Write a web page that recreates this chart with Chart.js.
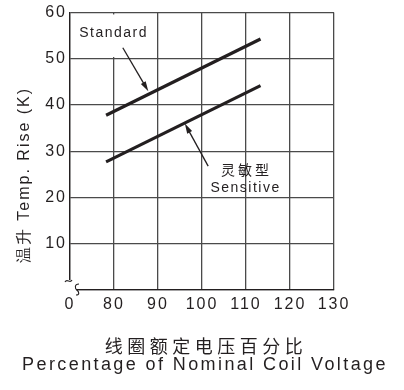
<!DOCTYPE html>
<html>
<head>
<meta charset="utf-8">
<script src="https://cdn.jsdelivr.net/npm/chart.js@4"></script>
<style>
  body { margin: 0; background: #fff; }
  canvas { display: block; }
</style>
</head>
<body>
<canvas id="chart" width="404" height="390"></canvas>
<script>
// x axis is broken: the first tick (drawn at 70) is labelled "0"
const xTickValues = [70, 80, 90, 100, 110, 120, 130];
const xTickLabels = ['0', '80', '90', '100', '110', '120', '130'];
const yTickLabels = ['', '10', '20', '30', '40', '50', '60'];

const voltage = [78.2, 113.3];
const standardRise = [37.8, 54.3];
const sensitiveRise = [27.7, 44.2];

// callouts, in data units: [tailX, tailY, tipX, tipY]
const standardArrow = [82.0, 52.4, 87.8, 43.0];
const sensitiveArrow = [101.4, 26.8, 96.1, 36.0];

const FONT = '"Liberation Sans", Arial, sans-serif';
const INK = '#231f20';
const GRID = '#4a4a4a';

function toPoints(xs, ys) {
    return xs.map((x, i) => ({ x: x, y: ys[i] }));
}

function drawArrow(ctx, x1, y1, x2, y2) {
    const ang = Math.atan2(y2 - y1, x2 - x1);
    const len = 10, half = 2.8;
    ctx.strokeStyle = INK;
    ctx.fillStyle = INK;
    ctx.lineWidth = 1.3;
    ctx.beginPath();
    ctx.moveTo(x1, y1);
    ctx.lineTo(x2 - Math.cos(ang) * len * 0.8, y2 - Math.sin(ang) * len * 0.8);
    ctx.stroke();
    ctx.beginPath();
    ctx.moveTo(x2, y2);
    ctx.lineTo(x2 - Math.cos(ang) * len - Math.sin(ang) * half, y2 - Math.sin(ang) * len + Math.cos(ang) * half);
    ctx.lineTo(x2 - Math.cos(ang) * len + Math.sin(ang) * half, y2 - Math.sin(ang) * len - Math.cos(ang) * half);
    ctx.closePath();
    ctx.fill();
}

const decorations = {
    id: 'decorations',
    beforeDraw(chart) {
        chart.ctx.letterSpacing = '2px';
    },
    beforeDatasetsDraw(chart) {
        const { ctx, chartArea: a, scales: { x, y } } = chart;
        ctx.save();
        // label boxes hide the grid behind them
        ctx.fillStyle = '#fff';
        ctx.fillRect(x.getPixelForValue(71), y.getPixelForValue(59.6), x.getPixelForValue(88.6) - x.getPixelForValue(71), y.getPixelForValue(50.4) - y.getPixelForValue(59.6));
        ctx.fillRect(x.getPixelForValue(100.6), y.getPixelForValue(29.6), x.getPixelForValue(109.6) - x.getPixelForValue(100.6), y.getPixelForValue(20.4) - y.getPixelForValue(29.6));
        // axis break at the origin
        ctx.fillRect(a.left - 3, a.bottom - 10, 9, 13);
        ctx.strokeStyle = INK;
        ctx.lineWidth = 1.1;
        ctx.beginPath();
        ctx.moveTo(a.left - 5, a.bottom - 8);
        ctx.bezierCurveTo(a.left - 3, a.bottom - 12, a.left, a.bottom - 6, a.left + 2, a.bottom - 10);
        ctx.stroke();
        ctx.beginPath();
        ctx.moveTo(a.left + 9, a.bottom - 6);
        ctx.bezierCurveTo(a.left + 4, a.bottom - 6, a.left + 5, a.bottom - 1, a.left + 7, a.bottom);
        ctx.bezierCurveTo(a.left + 9, a.bottom + 2, a.left + 10, a.bottom + 5, a.left + 6, a.bottom + 5);
        ctx.stroke();
        ctx.restore();
    },
    afterDatasetsDraw(chart) {
        const { ctx, scales: { x, y } } = chart;
        ctx.save();
        [standardArrow, sensitiveArrow].forEach(ar => {
            drawArrow(ctx, x.getPixelForValue(ar[0]), y.getPixelForValue(ar[1]), x.getPixelForValue(ar[2]), y.getPixelForValue(ar[3]));
        });
        ctx.fillStyle = INK;
        ctx.textAlign = 'center';
        ctx.textBaseline = 'alphabetic';
        ctx.letterSpacing = '1.5px';
        ctx.font = '14px ' + FONT;
        ctx.fillText('Standard', x.getPixelForValue(79.9), y.getPixelForValue(54.8));
        ctx.fillText('Sensitive', x.getPixelForValue(109.9), y.getPixelForValue(21.1));
        ctx.letterSpacing = '3px';
        ctx.font = '14px "Noto Sans CJK SC", sans-serif';
        ctx.fillText('灵敏型', x.getPixelForValue(109.8) + 1.5, y.getPixelForValue(24.8));

        // axis titles
        ctx.font = '16px ' + FONT;
        ctx.letterSpacing = '2px';
        ctx.textBaseline = 'middle';
        ctx.save();
        ctx.translate(25, 175);
        ctx.rotate(-Math.PI / 2);
        ctx.fillText('温升 Temp. Rise (K)', 0, 0);
        ctx.restore();
        ctx.font = '18px "Noto Sans CJK SC", sans-serif';
        ctx.letterSpacing = '4.5px';
        ctx.fillText('线圈额定电压百分比', 206, 346);
        ctx.font = '18px ' + FONT;
        ctx.letterSpacing = '2.4px';
        ctx.fillText('Percentage of Nominal Coil Voltage', 205, 365);
        ctx.restore();
    }
};

new Chart(document.getElementById('chart'), {
    type: 'line',
    data: {
        datasets: [
            {
                label: 'Standard',
                data: toPoints(voltage, standardRise),
                borderColor: INK,
                borderWidth: 3.2,
                pointRadius: 0,
            },
            {
                label: '灵敏型 Sensitive',
                data: toPoints(voltage, sensitiveRise),
                borderColor: INK,
                borderWidth: 3.2,
                pointRadius: 0,
            },
        ],
    },
    plugins: [decorations],
    options: {
        responsive: false,
        animation: false,
        layout: { padding: { top: 12, right: 70, left: 0, bottom: 0 } },
        plugins: { legend: { display: false }, tooltip: { enabled: false } },
        scales: {
            x: {
                type: 'linear',
                min: 70,
                max: 130,
                afterBuildTicks: (scale) => {
                    scale.ticks = xTickValues.map(v => ({ value: v }));
                },
                afterFit: (scale) => { scale.height = 100; },
                ticks: {
                    color: INK,
                    padding: 5,
                    font: { family: FONT, size: 16 },
                    callback: (v, i) => xTickLabels[i],
                },
                grid: { color: GRID, lineWidth: 1.3, drawTicks: false },
                border: { color: INK, width: 1.3 },
            },
            y: {
                min: 0,
                max: 60,
                afterFit: (scale) => { scale.width = 70; },
                ticks: {
                    color: INK,
                    stepSize: 10,
                    padding: 3,
                    font: { family: FONT, size: 16 },
                    callback: (v, i) => yTickLabels[i],
                },
                grid: { color: GRID, lineWidth: 1.3, drawTicks: false },
                border: { color: INK, width: 1.3 },
            },
        },
    },
});
</script>
</body>
</html>
